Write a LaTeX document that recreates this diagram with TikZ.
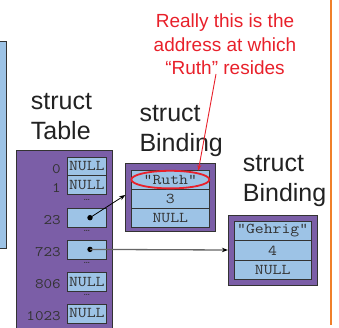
\documentclass[tikz,border=0pt]{standalone}
\usepackage{fontspec}
\setmainfont{Liberation Sans}
\newfontfamily\monofont{Latin Modern Mono}[FakeStretch=1.15]
\usetikzlibrary{arrows.meta}
\definecolor{purp}{HTML}{7B5EA7}
\definecolor{cellblue}{HTML}{9DC3E6}
\definecolor{edgegray}{HTML}{333333}
\definecolor{notered}{HTML}{E8202A}
\definecolor{orangeline}{HTML}{F07F2A}
\definecolor{lblgray}{HTML}{222222}
\begin{document}
\begin{tikzpicture}[x=1pt,y=-1pt,
  cell/.style={draw=edgegray, fill=cellblue, line width=0.8pt, minimum width=38.3pt, minimum height=18.9pt, inner sep=0pt, font=\monofont\fontsize{15}{15}\selectfont, text=edgegray},
  bcell/.style={cell, minimum width=77.3pt, minimum height=19.3pt},
  outerbox/.style={draw=edgegray, fill=purp, line width=0.8pt, inner sep=0pt},
  idx/.style={anchor=base east, inner sep=0pt, font=\monofont\fontsize{14.5}{14.5}\selectfont, text=edgegray},
  dotsep/.style={inner sep=0pt, font=\bfseries\fontsize{7}{7}\selectfont, text=edgegray},
  lbl/.style={anchor=base west, align=left, inner sep=0pt, font=\fontsize{25}{29.7}\selectfont, text=lblgray},
  ptr/.style={circle, fill=black, inner sep=0pt, minimum size=5.4pt},
  ]
\useasboundingbox (0,0) rectangle (339,328);
% left partial box
\path[fill=cellblue, draw=edgegray, line width=0.8pt] (-5,41.7) rectangle (6,248.3);
% orange divider
\draw[orangeline, line width=1.8pt] (330.7,0) -- (330.7,325);
% table outer
\fill[purp] (16.7,150.7) rectangle (112.7,330);
\draw[edgegray, line width=0.8pt] (16.7,330) -- (16.7,150.7) -- (112.7,150.7) -- (112.7,330);
% labels (anchored at baseline of the last line)
\node[lbl] (tlabel) at (30.7,139.3) {struct\\Table};
\node[lbl] (b1label) at (139.3,151.7) {struct\\Binding};
\node[lbl] (b2label) at (242.7,201.7) {struct\\Binding};
% table cells
\node[cell] (c0) at (86.85,166.5) {NULL};
\node[cell] (c1) at (86.85,185.3) {NULL};
\node[cell] (c23) at (86.85,217.8) {};
\node[cell] (c723) at (86.85,249.5) {};
\node[cell] (c806) at (86.85,281.65) {NULL};
\node[cell] (c1023) at (86.85,313.5) {NULL};
\node[idx] (i0) at (61,173.4) {0};
\node[idx] (i1) at (61,192.3) {1};
\node[idx] (i23) at (61,224.8) {23};
\node[idx] (i723) at (61,256.5) {723};
\node[idx] (i806) at (61,288.7) {806};
\node[idx] (i1023) at (61,320.5) {1023};
\node[dotsep] (d1) at (86.85,199.5) {...};
\node[dotsep] (d2) at (86.85,231.2) {...};
\node[dotsep] (d3) at (86.85,263.2) {...};
\node[dotsep] (d4) at (86.85,294.5) {...};
\node[ptr] (p23) at (90,217.7) {};
\node[ptr] (p723) at (90,249.4) {};
% binding 1
\node[outerbox, minimum width=89.3pt, minimum height=68.4pt] (b1) at (170.35,197.5) {};
\node[bcell] (r1) at (170.35,179.6) {"Ruth"};
\node[bcell] (r2) at (170.35,198.9) {3};
\node[bcell] (r3) at (170.35,218.2) {NULL};
% binding 2
\node[outerbox, minimum width=89pt, minimum height=70pt] (b2) at (272.8,250) {};
\node[bcell, minimum width=76.7pt] (g1) at (272.65,230.85) {"Gehrig"};
\node[bcell, minimum width=76.7pt] (g2) at (272.65,250.35) {4};
\node[bcell, minimum width=76.7pt] (g3) at (272.65,269.6) {NULL};
% red ellipse
\draw[notered, line width=1.8pt] (r1.center) ellipse [x radius=39pt, y radius=8.8pt];
% note
\node[align=center, inner sep=0pt, font=\fontsize{19}{23.5}\selectfont, text=notered] (note) at (225,44.5) {Really this is the\\address at which\\“Ruth” resides};
\coordinate (nstart) at (216,74);
\coordinate (nend) at (198.3,170.7);
\draw[notered, line width=0.9pt, -{Stealth[length=6pt,width=4pt]}] (nstart) -- (nend);
% pointers
\draw[black, line width=0.8pt, -{Stealth[length=6pt,width=4.5pt]}] (p23.center) -- ([yshift=2.5pt]b1.west);
\draw[black!60, line width=1.3pt, -{Stealth[length=6pt,width=4.5pt,color=black]}] (p723.center) -- (b2.west);
\end{tikzpicture}
\end{document}
